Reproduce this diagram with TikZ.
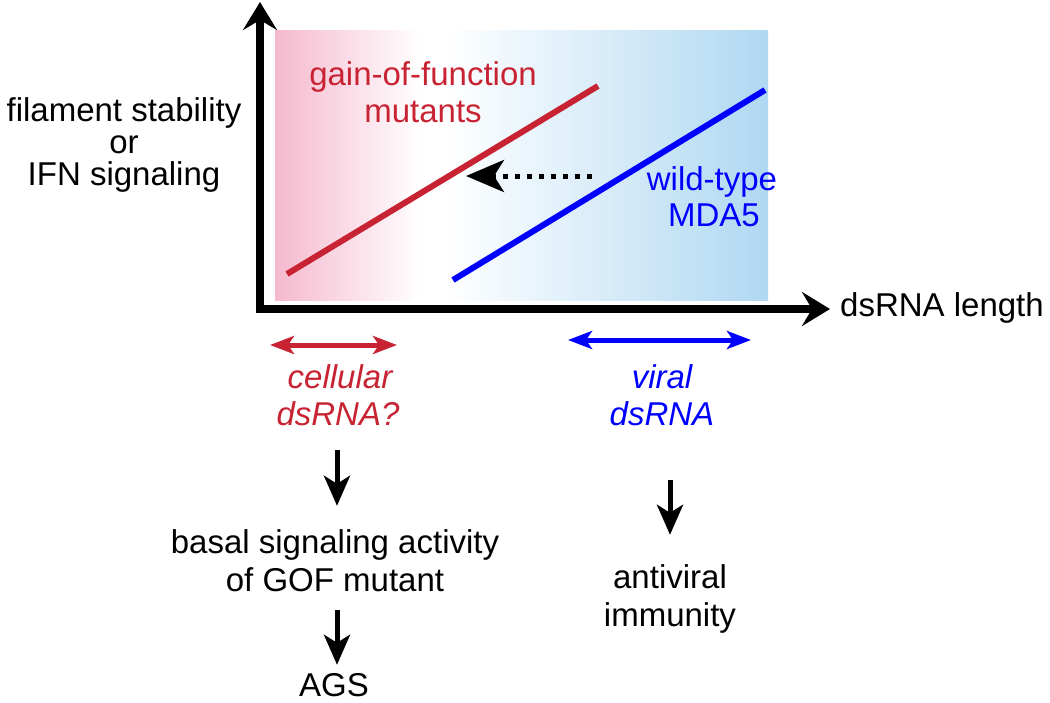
\documentclass[tikz,border=0pt]{standalone}
\usepackage{fontspec}
\setmainfont{Liberation Sans}
\usetikzlibrary{arrows.meta,calc}
\definecolor{myred}{RGB}{200,35,50}
\definecolor{myblue}{RGB}{0,0,255}
\definecolor{mypink}{RGB}{245,185,206}
\definecolor{lightbl}{RGB}{176,216,242}
\begin{document}
\begin{tikzpicture}[x=1pt,y=-1pt,
  lbl/.style={inner sep=0pt, font=\fontsize{33}{38}\selectfont, text height=24pt, text depth=7pt, anchor=base},
  itlbl/.style={lbl, font=\fontsize{33}{38}\selectfont\itshape},
  axis/.style={line width=8pt, line cap=rect, -{Stealth[length=28pt,width=34pt,inset=10pt]}},
  trend/.style={line width=6pt},
  dblarr/.style={line width=5pt, {Stealth[length=24pt,width=18pt,inset=6pt]}-{Stealth[length=24pt,width=18pt,inset=6pt]}},
  downarr/.style={line width=5pt, -{Stealth[length=30pt,width=26pt,inset=8pt]}},
  shiftarr/.style={line width=5pt, dash pattern=on 5pt off 7pt, -{Stealth[length=38pt,width=32pt,inset=10pt]}}
]
\useasboundingbox (0,0) rectangle (1050,702);
% shaded backgrounds
\shade[left color=mypink, right color=white] (275,30) rectangle (420,300);
\shade[left color=white, right color=lightbl] (445,30) rectangle (768,300);
% axes
\coordinate (o) at (260,309);
\coordinate (ytip) at (260,2);
\coordinate (xtip) at (830,309);
\draw[axis] (o) -- (ytip);
\draw[axis] (o) -- (xtip);
% trend lines
\coordinate (r1) at (287,274);
\coordinate (r2) at (598,86);
\coordinate (b1) at (453,280);
\coordinate (b2) at (765,90);
\draw[trend, myred] (r1) -- (r2);
\draw[trend, myblue] (b1) -- (b2);
% shift arrow
\coordinate (s1) at (592,176);
\coordinate (s2) at (466,176);
\draw[shiftarr] (s1) -- (s2);
% labels
\node[lbl] (fl1) at (124,121) {filament stability};
\node[lbl] (fl2) at (124,153) {or};
\node[lbl] (fl3) at (124,185) {IFN signaling};
\node[lbl, text=myred] (gof1) at (423,85) {gain-of-function};
\node[lbl, text=myred] (gof2) at (423,122) {mutants};
\node[lbl, text=myblue] (wt1) at (712,190) {wild-type};
\node[lbl, text=myblue] (wt2) at (714,226) {MDA5};
\node[lbl, anchor=base west] (xl) at (840,316) {dsRNA length};
% range arrows
\coordinate (cr1) at (270,345);
\coordinate (cr2) at (397,345);
\coordinate (vr1) at (568,340);
\coordinate (vr2) at (751,340);
\draw[dblarr, myred] (cr1) -- (cr2);
\draw[dblarr, myblue] (vr1) -- (vr2);
% bottom texts
\node[itlbl, text=myred] (cel1) at (340,388) {cellular};
\node[itlbl, text=myred] (cel2) at (338,425) {dsRNA?};
\node[itlbl, text=myblue] (vir1) at (662,388) {viral};
\node[itlbl, text=myblue] (vir2) at (662,425) {dsRNA};
\node[lbl] (bas1) at (335,553) {basal signaling activity};
\node[lbl] (bas2) at (335,591) {of GOF mutant};
\node[lbl] (ags) at (334,696) {AGS};
\node[lbl] (anti1) at (670,588) {antiviral};
\node[lbl] (anti2) at (670,626) {immunity};
% flow arrows
\draw[downarr, shorten <=18pt, shorten >=23pt] ([xshift=-1pt]cel2.south) -- ([xshift=-1pt]cel2.south |- bas1.north);
\draw[downarr, shorten <=12pt, shorten >=7pt] ([xshift=2pt]bas2.south) -- ([xshift=2pt]bas2.south |- ags.north);
\draw[downarr, shorten <=48pt, shorten >=29pt] ([xshift=8pt]vir2.south) -- ([xshift=8pt]vir2.south |- anti1.north);
\end{tikzpicture}
\end{document}
